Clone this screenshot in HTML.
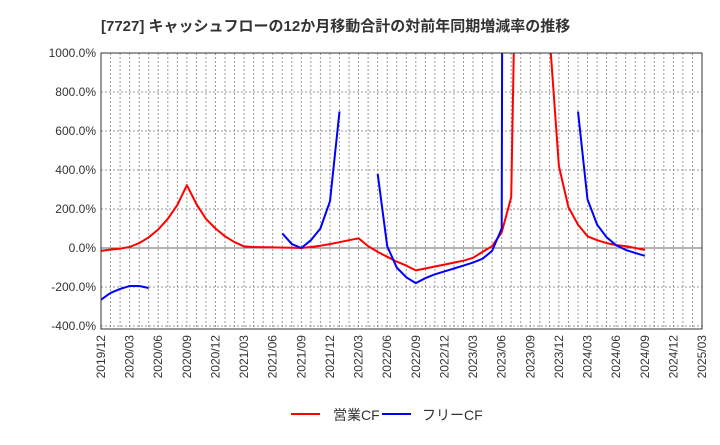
<!DOCTYPE html>
<html><head><meta charset="utf-8"><style>
body{margin:0;background:#fff;font-family:"Liberation Sans","Noto Sans CJK JP",sans-serif}
svg text{font-family:"Liberation Sans","Noto Sans CJK JP",sans-serif}
</style></head><body>
<svg id="c" width="720" height="440" xmlns="http://www.w3.org/2000/svg">
<text x="101" y="31" font-size="15" font-weight="bold" fill="#333">[7727]  キャッシュフローの12か月移動合計の対前年同期増減率の推移</text>
<g id="grid"></g><g id="axes"></g>
<defs><clipPath id="cp"><rect x="101" y="53" width="601" height="276"/></clipPath></defs>
<g id="series" clip-path="url(#cp)"></g>
<rect x="101" y="53" width="601" height="276" fill="none" stroke="#333"/>
<g>
<line x1="291" y1="414" x2="320" y2="414" stroke="#f00" stroke-width="2"/>
<text x="333" y="420" font-size="14" fill="#333">営業CF</text>
<line x1="382" y1="414" x2="411" y2="414" stroke="#00f" stroke-width="2"/>
<text x="422" y="420" font-size="14" fill="#333">フリーCF</text>
</g>
</svg>
<script>
const yTicks=[1000,800,600,400,200,0,-200,-400];
const xLabels=["2019/12","2020/03","2020/06","2020/09","2020/12","2021/03","2021/06","2021/09","2021/12","2022/03","2022/06","2022/09","2022/12","2023/03","2023/06","2023/09","2023/12","2024/03","2024/06","2024/09","2024/12","2025/03"];
// monthly values starting 2019/12 (index = months)
const opCF=[-15,-8,-3,5,25,55,95,150,220,322,225,150,100,60,30,8,5,4,3,2,1,0,5,12,20,30,40,50,10,-20,-45,-70,-90,-115,-105,-95,-85,-75,-65,-50,-20,10,80,260,3000,3000,3000,1100,420,210,120,60,40,25,15,10,0,-10];
const freeCF=[-265,-230,-210,-195,-195,-205,null,null,null,null,null,null,null,null,null,null,null,null,null,75,20,0,40,100,240,700,null,null,null,380,10,-100,-150,-180,-155,-135,-120,-105,-90,-75,-55,-15,100,20000,null,null,null,null,null,null,700,250,120,55,15,-10,-25,-40];
const X0=101,X1=702,Y0=53,Y1=329;
const mx=i=>X0+i*(X1-X0)/63;
const y=v=>248-v*(248-53)/1000;
const NS="http://www.w3.org/2000/svg";
function mk(t,a,p){const e=document.createElementNS(NS,t);for(const k in a)e.setAttribute(k,a[k]);p.appendChild(e);return e;}
const grid=document.getElementById('grid'),axes=document.getElementById('axes'),ser=document.getElementById('series');
for(let m=0;m<=63;m++){const l=mk('line',{x1:mx(m),x2:mx(m),y1:Y0,y2:Y1,stroke:'#999','stroke-dasharray':'2,2'},grid);

}
yTicks.forEach(v=>{const l=mk('line',{x1:X0,x2:X1,y1:y(v),y2:y(v),stroke:v===0?'#666':'#999','stroke-dasharray':v===0?'':'2,2'},grid);


const t=mk('text',{x:X0-5,y:y(v)+4,'font-size':12,'text-anchor':'end',fill:'#333'},axes);t.textContent=v.toFixed(1)+'%';

});
xLabels.forEach((s,i)=>{const x=mx(i*3);const t=mk('text',{transform:`translate(${x+4},335) rotate(-90)`,'font-size':12,'text-anchor':'end',fill:'#333'},axes);t.textContent=s;

});
function draw(arr,col,name){let segs=[],cur=[];arr.forEach((v,i)=>{if(v===null){if(cur.length)segs.push(cur);cur=[];}else cur.push(mx(i).toFixed(1)+','+y(v).toFixed(1));});if(cur.length)segs.push(cur);
segs.forEach(s=>{const p=mk('polyline',{points:s.join(' '),fill:'none',stroke:col,'stroke-width':2,'stroke-linejoin':'round'},ser);

});}
draw(opCF,'#f00','operating-cf-line');
draw(freeCF,'#00f','free-cf-line');
</script>
</body></html>
